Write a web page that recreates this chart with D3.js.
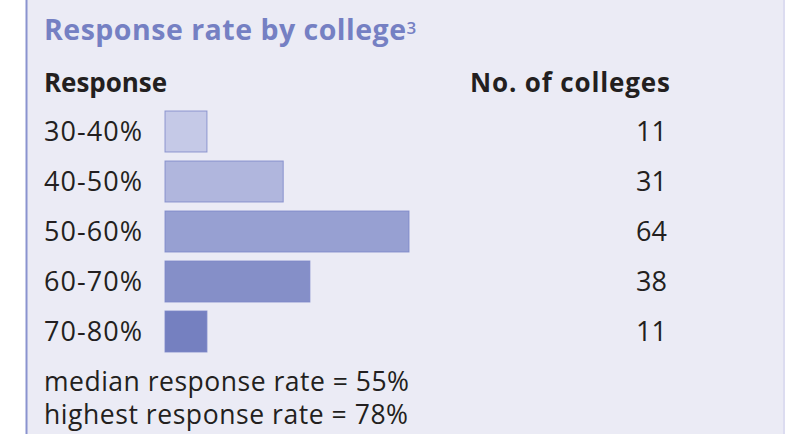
<!DOCTYPE html>
<html><head><meta charset="utf-8">
<script src="https://cdn.jsdelivr.net/npm/d3@7"></script>
<style>
html,body{margin:0;padding:0;background:#fff;}
svg{display:block;}
text{font-family:"Open Sans","Noto Sans",sans-serif;}
</style></head>
<body><svg id="c" width="785" height="434"></svg>
<script>
const categories = ["30-40%","40-50%","50-60%","60-70%","70-80%"];
const colleges = [11,31,64,38,11];
const barColors = ["#c5c9e7","#b0b6dd","#97a0d2","#858fc8","#7580c0"];
const title = "Response rate by college";
const titleSup = "3";
const headers = ["Response","No. of colleges"];
const notes = ["median response rate = 55%","highest response rate = 78%"];

const svg = d3.select("#c");
svg.append("rect").attr("x",26).attr("y",0).attr("width",759).attr("height",434).attr("fill","#ebebf5");
svg.append("line").attr("x1",26.5).attr("x2",26.5).attr("y1",0).attr("y2",434).attr("stroke","#8a93cf").attr("stroke-width",2);
svg.append("line").attr("x1",784).attr("x2",784).attr("y1",0).attr("y2",434).attr("stroke","#dcdcf0").attr("stroke-width",2);

const x = d3.scaleLinear().domain([0,64]).range([165,409]);
const y = d3.scaleBand().domain(categories).range([106.5,356.5]).paddingInner(0.18).paddingOuter(0.09);

// stretch text horizontally to the reference width by widening the spacing
function span(sel, w){ sel.attr("textLength", w).attr("lengthAdjust","spacing"); return sel; }

span(svg.append("text").attr("x",44).attr("y",40).attr("font-size",28.5).attr("font-weight","bold").attr("fill","#7580c3").text(title), 362);
svg.append("text").attr("x",406.5).attr("y",34).attr("font-size",17).attr("font-weight",600).attr("fill","#7580c3").text(titleSup);

span(svg.append("text").attr("x",44).attr("y",92).attr("font-size",26).attr("font-weight","bold").attr("fill","#231f20").text(headers[0]), 123);
span(svg.append("text").attr("x",470).attr("y",92).attr("font-size",26).attr("font-weight","bold").attr("fill","#231f20").text(headers[1]), 200);

const rows = svg.selectAll("g.row").data(categories).join("g").attr("class","row");
rows.append("rect")
  .attr("x",x(0)).attr("y",d=>y(d)).attr("height",y.bandwidth())
  .attr("width",(d,i)=>x(colleges[i])-x(0))
  .attr("fill",(d,i)=>barColors[i]).attr("stroke","#7b86c8").attr("stroke-width",1).attr("stroke-opacity",0.8);
rows.append("text").attr("x",44).attr("y",d=>y(d)+y.bandwidth()/2+9.5).attr("font-size",27).attr("fill","#231f20").attr("textLength",98).attr("lengthAdjust","spacing").text(d=>d);
rows.append("text").attr("x",667).attr("y",d=>y(d)+y.bandwidth()/2+9.5).attr("text-anchor","end").attr("font-size",27).attr("fill","#231f20").text((d,i)=>colleges[i]);

svg.selectAll("text.note").data(notes).join("text").attr("class","note")
  .attr("x",44).attr("y",(d,i)=>390.5+i*33).attr("font-size",26.5).attr("fill","#231f20")
  .attr("textLength",(d,i)=>i===0?365:364).attr("lengthAdjust","spacing").text(d=>d);
</script></body></html>
